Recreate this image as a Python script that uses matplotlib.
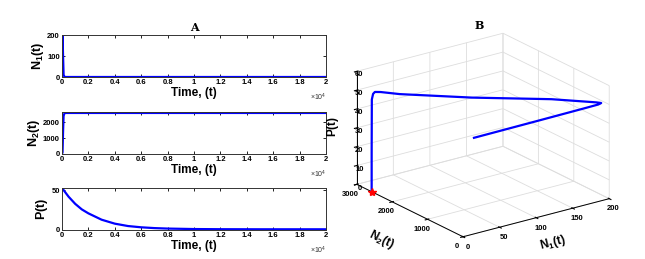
import matplotlib
matplotlib.use('Agg')

import matplotlib.pyplot as plt
import numpy as np

plt.rcParams['font.family'] = ['Liberation Sans', 'DejaVu Sans']
plt.rcParams['mathtext.fontset'] = 'custom'
plt.rcParams['mathtext.rm'] = 'Liberation Sans'
plt.rcParams['mathtext.bf'] = 'Liberation Sans:bold'

# time series (time in units of 10^4)
t_n1 = [0, 0.004, 0.008, 0.012, 0.02, 1.0, 2.0]
n1 = [8, 200, 100, 10, 0, 0, 0]

t_n2 = [0, 0.004, 0.008, 0.012, 0.02, 1.0, 2.0]
n2 = [0, 100, 1400, 2400, 2580, 2580, 2580]

t_p = [0, 0.05, 0.1, 0.15, 0.2, 0.3, 0.4, 0.5, 0.6, 0.7, 0.8, 1.0, 1.2, 1.5, 2.0]
p = [53, 42, 33, 26, 21, 13, 8, 5, 3.4, 2.4, 1.8, 1.2, 1.0, 0.9, 0.9]

# phase trajectory
traj_n1 = [15, 100, 165, 185, 190, 186, 150, 80, 20, 6, 2, 1, 0, 0, 0]
traj_n2 = [0, 0, 0, 0, 20, 80, 600, 1400, 2200, 2450, 2530, 2560, 2575, 2580, 2580]
traj_p = [51, 51.2, 51.4, 51.5, 51.6, 51.8, 52.3, 52.8, 53.3, 53.5, 53.2, 52, 49, 20, 0]
star = (0, 2580, 0)

blue = '#0000ff'
W, H = 645, 259
fig = plt.figure(figsize=(W / 100, H / 100), dpi=100)

def fx(px):
    return px / W

def fy(py):
    return 1 - py / H

tick_kw = dict(labelsize=5.5, length=2, width=0.6, direction='in', pad=1.5)

panels = [
    (35, 77, t_n1, n1, (0, 200), [0, 100, 200], r'$\mathbf{N_1(t)}$'),
    (112, 154, t_n2, n2, (0, 2640), [0, 1000, 2000], r'$\mathbf{N_2(t)}$'),
    (188, 230, t_p, p, (0, 53), [0, 50], r'$\mathbf{P(t)}$'),
]
for top, bot, tt, yy, ylim, yticks, lab in panels:
    ax = fig.add_axes([fx(62), fy(bot), fx(326 - 62), (bot - top) / H])
    ax.plot(tt, yy, color=blue, lw=1.6)
    ax.set_xlim(0, 2)
    ax.set_ylim(*ylim)
    ax.set_xticks(np.arange(0, 2.01, 0.2))
    ax.set_xticklabels(['0', '0.2', '0.4', '0.6', '0.8', '1', '1.2', '1.4', '1.6', '1.8', '2'])
    ax.set_yticks(yticks)
    ax.tick_params(**tick_kw, top=True, right=True)
    for lb in ax.get_xticklabels() + ax.get_yticklabels():
        lb.set_fontweight('bold')
    for s in ax.spines.values():
        s.set_linewidth(0.7)
        s.set_color('#333333')
    ax.set_xlabel('Time, (t)', fontsize=8.5, fontweight='bold', labelpad=1)
    ax.set_ylabel(lab, fontsize=9, labelpad=1)
    ax.text(1.0, -0.36, r'$\times10^4$', transform=ax.transAxes, fontsize=5,
            ha='right', va='top', color='#333333')
    if top == 35:
        ax.set_title('A', fontsize=8, fontweight='bold', family='DejaVu Serif', pad=3)

# 3D panel
ax3 = fig.add_axes([fx(322), -9 / H, fx(315), 259 / H], projection='3d')
ax3.set_proj_type('ortho')
ax3.view_init(elev=21, azim=-126)
ax3.set_box_aspect((1, 1, 0.67), zoom=1.06)
ax3.plot(traj_n1, traj_n2, traj_p, color=blue, lw=1.6)
ax3.plot([star[0]], [star[1]], [star[2]], marker='*', color='red', ms=6, ls='none')
ax3.set_xlim(0, 200)
ax3.set_ylim(0, 3000)
ax3.set_zlim(0, 60)
ax3.set_xticks([0, 50, 100, 150, 200])
ax3.set_yticks([0, 1000, 2000, 3000])
ax3.set_zticks([0, 10, 20, 30, 40, 50, 60])
for a in (ax3.xaxis, ax3.yaxis, ax3.zaxis):
    a.set_pane_color((1, 1, 1, 0))
    a._axinfo['grid']['color'] = '#dddddd'
    a._axinfo['grid']['linewidth'] = 0.6
    a.line.set_linewidth(0.7)
ax3.zaxis.set_ticks_position('upper')
ax3.zaxis.set_label_position('upper')
ax3.tick_params(labelsize=5.5)
ax3.xaxis.set_tick_params(pad=-4)
ax3.yaxis.set_tick_params(pad=-4)
ax3.zaxis.set_tick_params(pad=-9)
for lb in ax3.get_xticklabels() + ax3.get_yticklabels() + ax3.get_zticklabels():
    lb.set_fontweight('bold')
ax3.set_xlabel(r'$\mathbf{N_1(t)}$', fontsize=8.5, labelpad=-6)
ax3.set_ylabel(r'$\mathbf{N_2(t)}$', fontsize=8.5, labelpad=-2)
ax3.set_zlabel(r'$\mathbf{P(t)}$', fontsize=8.5, labelpad=-12)
ax3.set_title('B', fontsize=8, fontweight='bold', family='DejaVu Serif', y=0.97)

fig.savefig('out.png', dpi=100)
